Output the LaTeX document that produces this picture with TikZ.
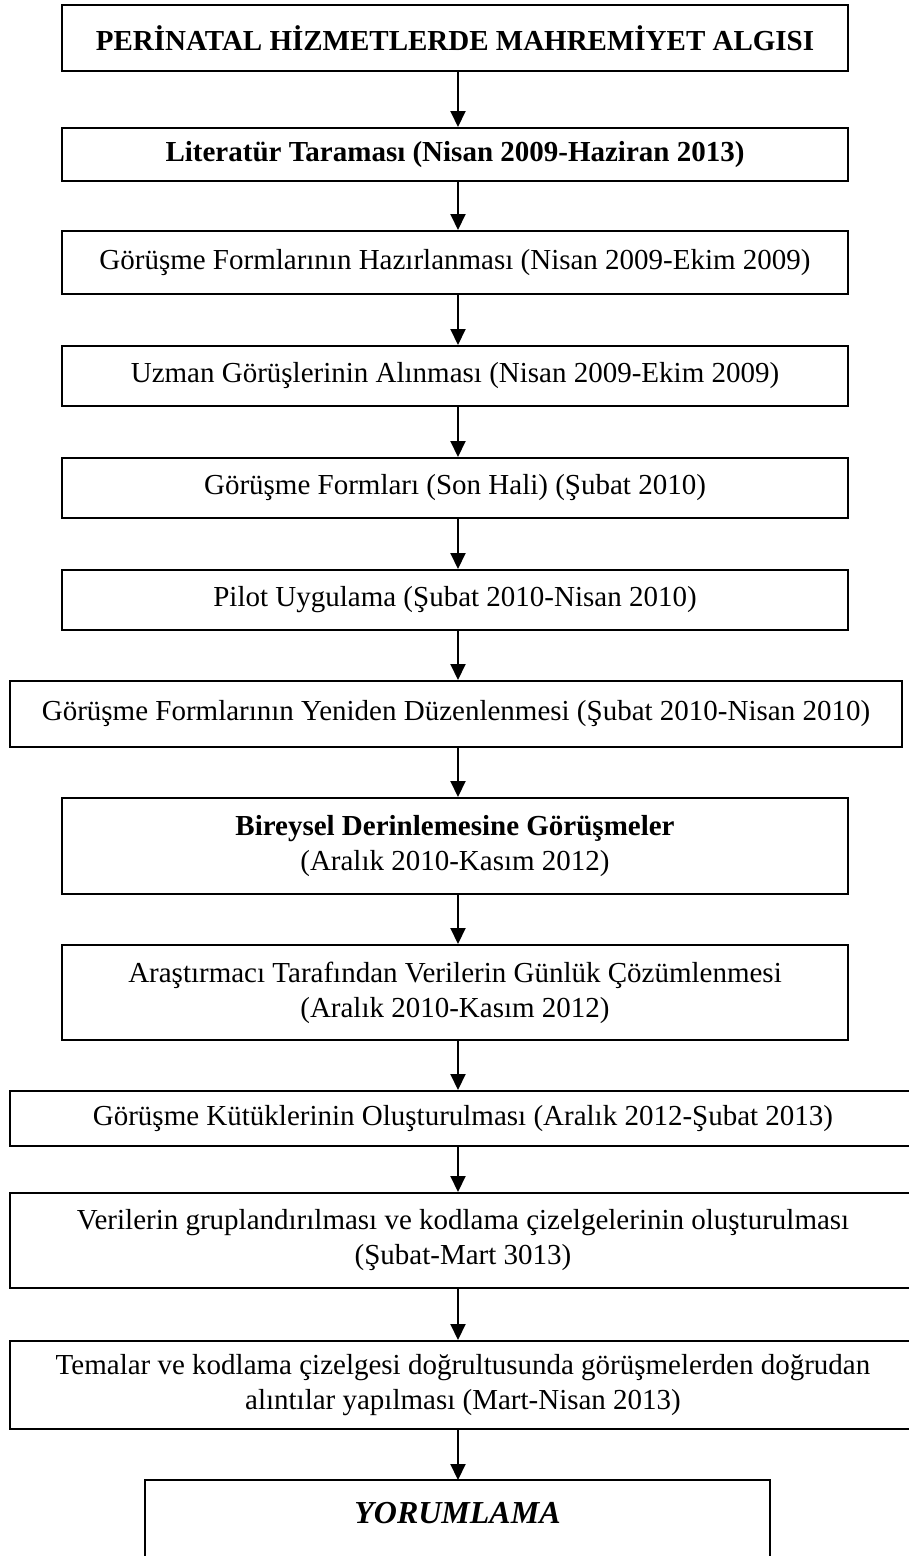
\documentclass[tikz,border=0pt]{standalone}
\usepackage{fontspec}
\setmainfont{Liberation Serif}
\usetikzlibrary{arrows.meta}

\tikzset{
  stepbox/.style={draw, line width=2pt, inner sep=0pt, anchor=north,
    align=center, font=\fontsize{29}{35}\selectfont},
  flow/.style={line width=2pt, -{Triangle[length=16pt,width=15pt]}},
}

\begin{document}
\begin{tikzpicture}[x=1pt,y=-1pt]
\useasboundingbox (0,0) rectangle (908,1556);

% vertical line along which all connectors run
\coordinate (ax) at (458,0);

\node[stepbox, minimum width=786, minimum height=66] (b1) at (455,4)
  {\textbf{PERİNATAL HİZMETLERDE MAHREMİYET ALGISI}};
\node[stepbox, minimum width=786, minimum height=53] (b2) at (455,127)
  {\textbf{Literatür Taraması (Nisan 2009-Haziran 2013)}};
\node[stepbox, minimum width=786, minimum height=63] (b3) at (455,230)
  {Görüşme Formlarının Hazırlanması (Nisan 2009-Ekim 2009)};
\node[stepbox, minimum width=786, minimum height=60] (b4) at (455,345)
  {Uzman Görüşlerinin Alınması (Nisan 2009-Ekim 2009)};
\node[stepbox, minimum width=786, minimum height=60] (b5) at (455,457)
  {Görüşme Formları (Son Hali) (Şubat 2010)};
\node[stepbox, minimum width=786, minimum height=60] (b6) at (455,569)
  {Pilot Uygulama (Şubat 2010-Nisan 2010)};
\node[stepbox, minimum width=892, minimum height=66] (b7) at (456,680)
  {Görüşme Formlarının Yeniden Düzenlenmesi (Şubat 2010-Nisan 2010)};
\node[stepbox, minimum width=786, minimum height=96] (b8) at (455,797)
  {\textbf{Bireysel Derinlemesine Görüşmeler}\\(Aralık 2010-Kasım 2012)};
\node[stepbox, minimum width=786, minimum height=95] (b9) at (455,944)
  {Araştırmacı Tarafından Verilerin Günlük Çözümlenmesi\\(Aralık 2010-Kasım 2012)};
% the three wide boxes run past the right margin
\node[stepbox, minimum width=906, minimum height=55] (b10) at (463,1090)
  {Görüşme Kütüklerinin Oluşturulması (Aralık 2012-Şubat 2013)};
\node[stepbox, minimum width=906, minimum height=95] (b11) at (463,1192)
  {Verilerin gruplandırılması ve kodlama çizelgelerinin oluşturulması\\(Şubat-Mart 3013)};
\node[stepbox, minimum width=906, minimum height=88] (b12) at (463,1340)
  {Temalar ve kodlama çizelgesi doğrultusunda görüşmelerden doğrudan\\alıntılar yapılması (Mart-Nisan 2013)};

% last box continues below the lower edge: only sides and top are drawn
\node[inner sep=0pt, minimum width=625, minimum height=90, anchor=north] (b13) at (457.5,1480) {};
\node[anchor=center, inner sep=0pt, font=\fontsize{32}{36}\selectfont\bfseries\itshape]
  (t13) at ([yshift=-33pt]b13.north) {YORUMLAMA};
\draw[line width=2pt] (b13.south west) -- (b13.north west) -- (b13.north east) -- (b13.south east);

\foreach \a/\b in {b1/b2,b2/b3,b3/b4,b4/b5,b5/b6,b6/b7,b7/b8,b8/b9,b9/b10,b10/b11,b11/b12,b12/b13}
  \draw[flow] (\a.south -| ax) -- (\b.north -| ax);
\end{tikzpicture}
\end{document}
